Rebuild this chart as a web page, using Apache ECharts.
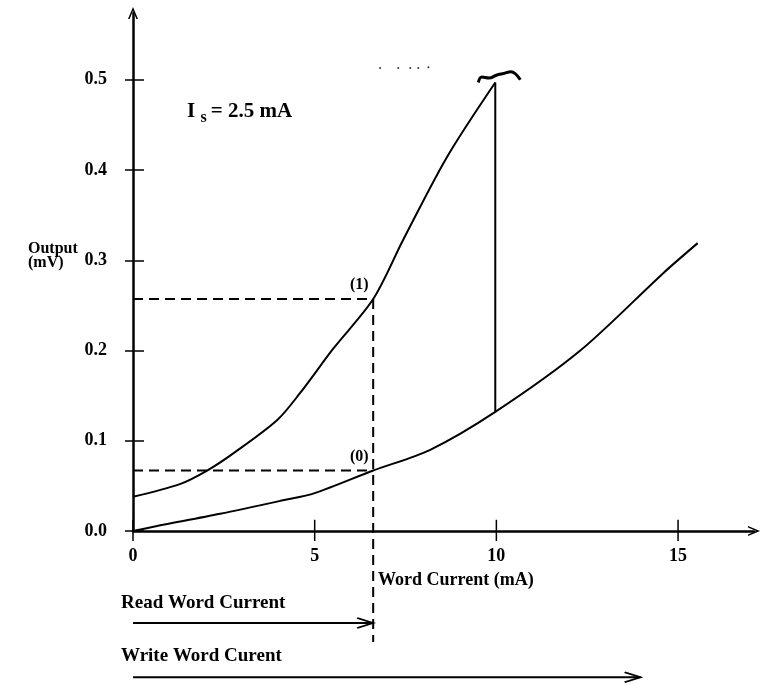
<!DOCTYPE html>
<html>
<head>
<meta charset="utf-8">
<script src="https://cdn.jsdelivr.net/npm/echarts@6/dist/echarts.min.js"></script>
<style>
  html, body { margin: 0; padding: 0; background: #fff; }
  #chart { width: 763px; height: 685px; }
</style>
</head>
<body>
<div id="chart"></div>
<script>
// values (x: word current mA, y: output mV)
const xTicks = [0, 5, 10, 15];
const yTicks = [0, 0.1, 0.2, 0.3, 0.4, 0.5];

const upperX = [0, 1.29, 2.04, 2.76, 3.97, 4.6, 5.51, 6.61, 7.44, 8.65, 9.97];
const upperY = [0.038, 0.052, 0.067, 0.086, 0.123, 0.153, 0.202, 0.257, 0.323, 0.415, 0.497];

const lowerX = [0, 0.66, 2.4, 4.13, 5, 6.61, 8.18, 9.97, 12.31, 14.6, 15.54];
const lowerY = [0, 0.0055, 0.019, 0.034, 0.042, 0.067, 0.09, 0.132, 0.2, 0.286, 0.319];

const switchX = 9.97;          // write pulse drop
const readX = 6.61;            // read word current
const readOne = 0.257;         // output for "1"
const readZero = 0.067;        // output for "0"
const writeEndX = 13.97;
const readArrowY = -0.102;
const writeArrowY = -0.162;
const dashBottomY = -0.123;

// scan artifacts at the top of the write peak
const scribbleX = [9.5, 9.6, 9.8, 10.0, 10.2, 10.4, 10.66];
const scribbleY = [0.497, 0.503, 0.502, 0.505, 0.507, 0.509, 0.5];
const dotsX = [6.8, 7.3, 7.63, 7.85, 8.13];
const dotsY = [0.513, 0.513, 0.513, 0.513, 0.514];

const font = "'Liberation Serif', 'DejaVu Serif', serif";
const zip = (xs, ys) => xs.map((x, i) => [x, ys[i]]);

const chart = echarts.init(document.getElementById('chart'));

const xMax = 17.09, yMax = 0.574;
const chevronUp = 'path://M5,0 L10,12 L8.4,12 L5,3.8 L1.6,12 L0,12 Z';
const openHead = 'path://M0,0 L10,5 L0,10';
const hiddenLine = { show: true, onZero: false, lineStyle: { color: 'rgba(0,0,0,0)', width: 0 } };

// x ticks cross the axis: short segments from just below to just above y = 0
const xTickSegs = [];
xTicks.forEach((t) => { xTickSegs.push([t, -0.011], [t, 0.0125], '-'); });

const axisBase = (extra) => Object.assign({
  type: 'value', min: 0, splitLine: { show: false },
}, extra);

const plain = (data, opts) => Object.assign({
  type: 'line', data, symbol: 'none', silent: true, animation: false,
  lineStyle: { color: '#000', width: 2 }, z: 3,
}, opts);

const arrow = (x1, y) => plain([
  { value: [0, y], symbol: 'none' },
  { value: [x1, y], symbol: openHead, symbolSize: [16, 10], symbolOffset: [-8, 0] }
], {
  showSymbol: true, clip: false,
  itemStyle: { color: 'rgba(0,0,0,0)', borderColor: '#000', borderWidth: 2 },
});

chart.setOption({
  backgroundColor: '#fff',
  animation: false,
  grid: { left: 133, right: 9, top: 13, bottom: 154, containLabel: false },
  xAxis: {
    type: 'value', min: 0, max: xMax, position: 'bottom', splitLine: { show: false },
    axisLine: { show: true, onZero: false, symbol: ['none', chevronUp], symbolSize: [10, 12],
      lineStyle: { color: '#000', width: 2.5 } },
    axisTick: { show: false },
    axisLabel: { customValues: xTicks, margin: 16, color: '#000', fontFamily: font,
      fontWeight: 'bold', fontSize: 18 },
  },
  yAxis: [
    axisBase({
      max: yMax, position: 'left',
      axisLine: { show: true, onZero: false, symbol: ['none', chevronUp], symbolSize: [10, 12],
        lineStyle: { color: '#000', width: 2.5 } },
      axisTick: { show: false },
      axisLabel: { customValues: yTicks, margin: 26, color: '#000', fontFamily: font,
        fontWeight: 'bold', fontSize: 18, formatter: (v) => v.toFixed(1) },
    }),
    // crossing tick marks: pulled 11px into the plot, drawn 19px long
    axisBase({
      max: yMax, position: 'left', offset: -11,
      axisLine: hiddenLine,
      axisTick: { show: true, length: 19, customValues: yTicks, lineStyle: { color: '#000', width: 1.5 } },
      axisLabel: { show: false },
    }),
  ],
  series: [
    plain(xTickSegs, { clip: false, connectNulls: false, lineStyle: { color: '#000', width: 1.5 } }),
    plain(zip(upperX, upperY), { smooth: 0.3 }),
    plain(zip(lowerX, lowerY), { smooth: 0.3 }),
    plain([[switchX, upperY[upperY.length - 1]], [switchX, lowerY[lowerX.indexOf(switchX)]]]),
    // read levels
    plain([[0, readOne], [readX, readOne]], { lineStyle: { color: '#000', width: 2, type: [10, 6] } }),
    plain([[0, readZero], [readX, readZero]], { lineStyle: { color: '#000', width: 2, type: [10, 6] } }),
    plain([[readX, readOne], [readX, dashBottomY]], { clip: false,
      lineStyle: { color: '#000', width: 2, type: [10, 6] } }),
    // markers "(1)" and "(0)"
    {
      type: 'scatter', silent: true, symbolSize: 1, animation: false,
      itemStyle: { color: 'rgba(0,0,0,0)', opacity: 1 },
      data: [
        { value: [readX, readOne], label: { formatter: '(1)' } },
        { value: [readX, readZero], label: { formatter: '(0)' } },
      ],
      label: { show: true, position: 'left', distance: 4, offset: [0, -14], opacity: 1,
        color: '#000', fontFamily: font, fontWeight: 'bold', fontSize: 16 },
    },
    // read / write word current spans
    arrow(readX, readArrowY),
    arrow(writeEndX, writeArrowY),
    // artifacts
    plain(zip(scribbleX, scribbleY), { smooth: 0.4, lineStyle: { color: '#000', width: 3 } }),
    {
      type: 'scatter', silent: true, animation: false, symbolSize: 2,
      itemStyle: { color: '#333', opacity: 1 }, data: zip(dotsX, dotsY),
    },
  ],
  graphic: [
    {
      type: 'text', left: 187, top: 101,
      style: {
        text: '{b|I} {s|s}{b|= 2.5 mA}',
        rich: {
          b: { fontFamily: font, fontWeight: 'bold', fontSize: 21, fill: '#000' },
          s: { fontFamily: font, fontWeight: 'bold', fontSize: 16, fill: '#000', padding: [12, 4, 0, 2] },
        },
      },
    },
    {
      type: 'text', left: 28, top: 241,
      style: { text: 'Output\n(mV)', fontFamily: font, fontWeight: 'bold', fontSize: 16,
        lineHeight: 14, align: 'center', fill: '#000', x: 22 },
    },
    {
      type: 'text', left: 378, top: 571,
      style: { text: 'Word Current (mA)', fontFamily: font, fontWeight: 'bold', fontSize: 18, fill: '#000' },
    },
    {
      type: 'text', left: 121, top: 594,
      style: { text: 'Read Word Current', fontFamily: font, fontWeight: 'bold', fontSize: 19, fill: '#000' },
    },
    {
      type: 'text', left: 121, top: 647,
      style: { text: 'Write Word Curent', fontFamily: font, fontWeight: 'bold', fontSize: 19, fill: '#000' },
    },
  ],
});
</script>
</body>
</html>
